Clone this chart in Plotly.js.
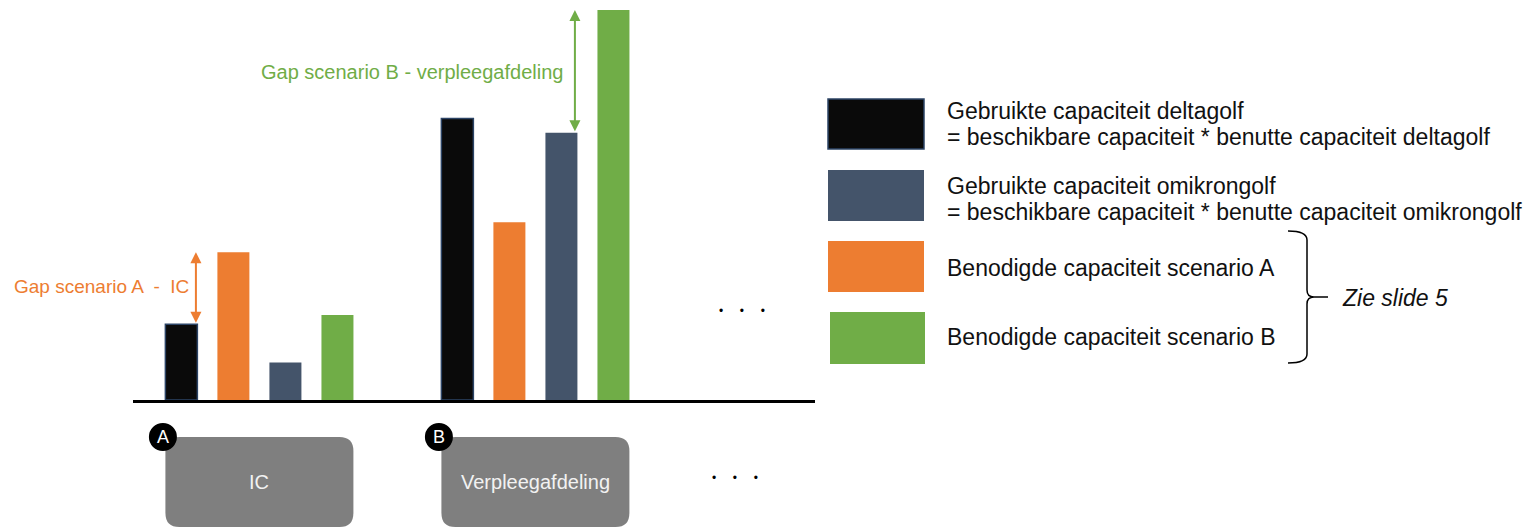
<!DOCTYPE html>
<html>
<head>
<meta charset="utf-8">
<script src="https://cdn.plot.ly/plotly-3.0.1.min.js"></script>
<style>
  html, body { margin: 0; padding: 0; background: #ffffff; }
  #chart { width: 1536px; height: 529px; }
</style>
</head>
<body>
<div id="chart"></div>
<script>
// ---- Data ----
const categories = ['IC', 'Verpleegafdeling'];
const categoryBadges = ['A', 'B'];
const seriesNames = [
  'Gebruikte capaciteit deltagolf',
  'Gebruikte capaciteit omikrongolf',
  'Benodigde capaciteit scenario A',
  'Benodigde capaciteit scenario B'
];
const seriesFormulas = [
  '= beschikbare capaciteit * benutte capaciteit deltagolf',
  '= beschikbare capaciteit * benutte capaciteit omikrongolf',
  '',
  ''
];
const deltagolf   = [19.4, 72.2];
const scenarioA   = [37.9, 45.6];
const omikrongolf = [9.6, 68.5];
const scenarioB   = [21.8, 100];
const gapLabels = ['Gap scenario A  -  IC', 'Gap scenario B - verpleegafdeling'];
const sideNote = 'Zie slide 5';

// ---- Styling ----
const colDelta = '#0a0a0a';
const colOmi = '#44546A';
const colA = '#ED7D31';
const colB = '#70AD47';
const FONT = 'Liberation Sans, Arial, sans-serif';

// plot area geometry (pixels)
const L = 133, T = 10, W = 682, H = 390;
function px(x) { return (x - L) / W; }
function py(y) { return (T + H - y) / H; }

const barOrder = [
  {name: seriesNames[0], y: deltagolf, color: colDelta, line: {color: '#2c4466', width: 1.5}},
  {name: seriesNames[2], y: scenarioA, color: colA, line: {width: 0}},
  {name: seriesNames[1], y: omikrongolf, color: colOmi, line: {width: 0}},
  {name: seriesNames[3], y: scenarioB, color: colB, line: {width: 0}}
];

const traces = barOrder.map(s => ({
  type: 'bar',
  x: categories,
  y: s.y,
  name: s.name,
  marker: {color: s.color, line: s.line},
  hoverinfo: 'skip'
}));

const shapes = [];
const annotations = [];

// category boxes with badges
categories.forEach((c, i) => {
  const r = 14, hw = 94, hh = 45;
  const path = `M ${-hw + r} ${-hh} L ${hw - r} ${-hh} Q ${hw} ${-hh} ${hw} ${-hh + r} ` +
               `L ${hw} ${hh - r} Q ${hw} ${hh} ${hw - r} ${hh} L ${-hw + r} ${hh} ` +
               `Q ${-hw} ${hh} ${-hw} ${hh - r} L ${-hw} ${-hh + r} Q ${-hw} ${-hh} ${-hw + r} ${-hh} Z`;
  shapes.push({
    type: 'path', xref: 'x', yref: 'paper', xsizemode: 'pixel', ysizemode: 'pixel',
    xanchor: i, yanchor: py(482), path: path,
    fillcolor: '#7f7f7f', line: {width: 0}, layer: 'above'
  });
  shapes.push({
    type: 'circle', xref: 'x', yref: 'paper', xsizemode: 'pixel', ysizemode: 'pixel',
    xanchor: i + (163 - 259.5) / 276, yanchor: py(437), x0: -14, x1: 14, y0: -14, y1: 14,
    fillcolor: '#000000', line: {width: 0}, layer: 'above'
  });
  annotations.push({
    x: i + (163 - 259.5) / 276, y: py(437), xref: 'x', yref: 'paper',
    xanchor: 'center', yanchor: 'middle',
    text: categoryBadges[i], showarrow: false,
    font: {family: FONT, size: 18, color: '#ffffff'}
  });
  annotations.push({
    x: i, y: py(482), xref: 'x', yref: 'paper', xanchor: 'center', yanchor: 'middle',
    text: c, showarrow: false,
    font: {family: FONT, size: 20, color: '#f2f2f2'}
  });
});

// gap arrows
annotations.push({
  x: 0 + (196 - 259.5) / 276, y: scenarioA[0], ax: 0 + (196 - 259.5) / 276, ay: deltagolf[0],
  xref: 'x', yref: 'y', axref: 'x', ayref: 'y', text: '', showarrow: true,
  arrowhead: 2, startarrowhead: 2, arrowside: 'end+start', arrowsize: 1.1, startarrowsize: 1.1,
  arrowwidth: 2, arrowcolor: colA, standoff: 0, startstandoff: 0
});
annotations.push({
  x: 1 + (575 - 535.5) / 276, y: scenarioB[1], ax: 1 + (575 - 535.5) / 276, ay: omikrongolf[1],
  xref: 'x', yref: 'y', axref: 'x', ayref: 'y', text: '', showarrow: true,
  arrowhead: 2, startarrowhead: 2, arrowside: 'end+start', arrowsize: 1.1, startarrowsize: 1.1,
  arrowwidth: 2, arrowcolor: colB, standoff: 0, startstandoff: 0
});
annotations.push({
  x: px(191), y: py(287), xref: 'paper', yref: 'paper', xanchor: 'right', yanchor: 'middle',
  text: gapLabels[0], showarrow: false, font: {family: FONT, size: 19, color: colA}
});
annotations.push({
  x: px(565), y: py(72), xref: 'paper', yref: 'paper', xanchor: 'right', yanchor: 'middle',
  text: gapLabels[1], showarrow: false, font: {family: FONT, size: 20, color: colB}
});

// dots
[[742, 311], [735, 478]].forEach(p => {
  annotations.push({
    x: px(p[0]), y: py(p[1]), xref: 'paper', yref: 'paper', xanchor: 'center', yanchor: 'middle',
    showarrow: false,
    text: '•     •     •', font: {family: FONT, size: 12, color: '#000000'}
  });
});

// legend
const legendColors = [colDelta, colOmi, colA, colB];
const legendBoxes = [[828, 99, 924, 149], [828, 170, 924, 221], [828, 241, 924, 292], [830, 312, 925, 364]];
legendBoxes.forEach((b, i) => {
  shapes.push({
    type: 'rect', xref: 'paper', yref: 'paper',
    x0: px(b[0]), x1: px(b[2]), y0: py(b[3]), y1: py(b[1]),
    fillcolor: legendColors[i],
    line: i === 0 ? {color: '#2c4466', width: 1.5} : {width: 0}
  });
});
const legendText = [
  [seriesNames[0], 111], [seriesFormulas[0], 137],
  [seriesNames[1], 186], [seriesFormulas[1], 212],
  [seriesNames[2], 268], [seriesNames[3], 337]
];
legendText.forEach(t => {
  annotations.push({
    x: px(945), y: py(t[1]), xref: 'paper', yref: 'paper', xanchor: 'left', yanchor: 'middle',
    text: t[0], showarrow: false, font: {family: FONT, size: 23, color: '#111111'}
  });
});

// brace
const bp = (x, y) => `${px(x)} ${py(y)}`;
shapes.push({
  type: 'path', xref: 'paper', yref: 'paper',
  path: `M ${bp(1288, 231)} Q ${bp(1307, 231)} ${bp(1307, 240)} L ${bp(1307, 290)} ` +
        `Q ${bp(1307, 297)} ${bp(1314, 297)} L ${bp(1328, 297)} M ${bp(1314, 297)} ` +
        `Q ${bp(1307, 297)} ${bp(1307, 304)} L ${bp(1307, 354)} Q ${bp(1307, 363)} ${bp(1288, 363)}`,
  line: {color: '#000000', width: 1.5}, fillcolor: 'rgba(0,0,0,0)'
});
annotations.push({
  x: px(1340), y: py(298), xref: 'paper', yref: 'paper', xanchor: 'left', yanchor: 'middle',
  text: '<i>' + sideNote + '</i>', showarrow: false, font: {family: FONT, size: 23, color: '#111111'}
});

const layout = {
  width: 1536, height: 529,
  margin: {l: L, r: 1536 - L - W, t: T, b: 529 - T - H, pad: 0},
  paper_bgcolor: '#ffffff', plot_bgcolor: '#ffffff',
  showlegend: false,
  barmode: 'group', bargap: 0.246, bargroupgap: 0.385,
  xaxis: {
    type: 'category', range: [-0.458, 2.013], showticklabels: false, ticks: '',
    showgrid: false, zeroline: false, showline: true, linecolor: '#000000', linewidth: 3,
    fixedrange: true
  },
  yaxis: {
    range: [0, 100], visible: false, showgrid: false, zeroline: false, fixedrange: true
  },
  shapes: shapes,
  annotations: annotations,
  font: {family: FONT}
};

Plotly.newPlot('chart', traces, layout, {staticPlot: true, displayModeBar: false});
</script>
</body>
</html>
